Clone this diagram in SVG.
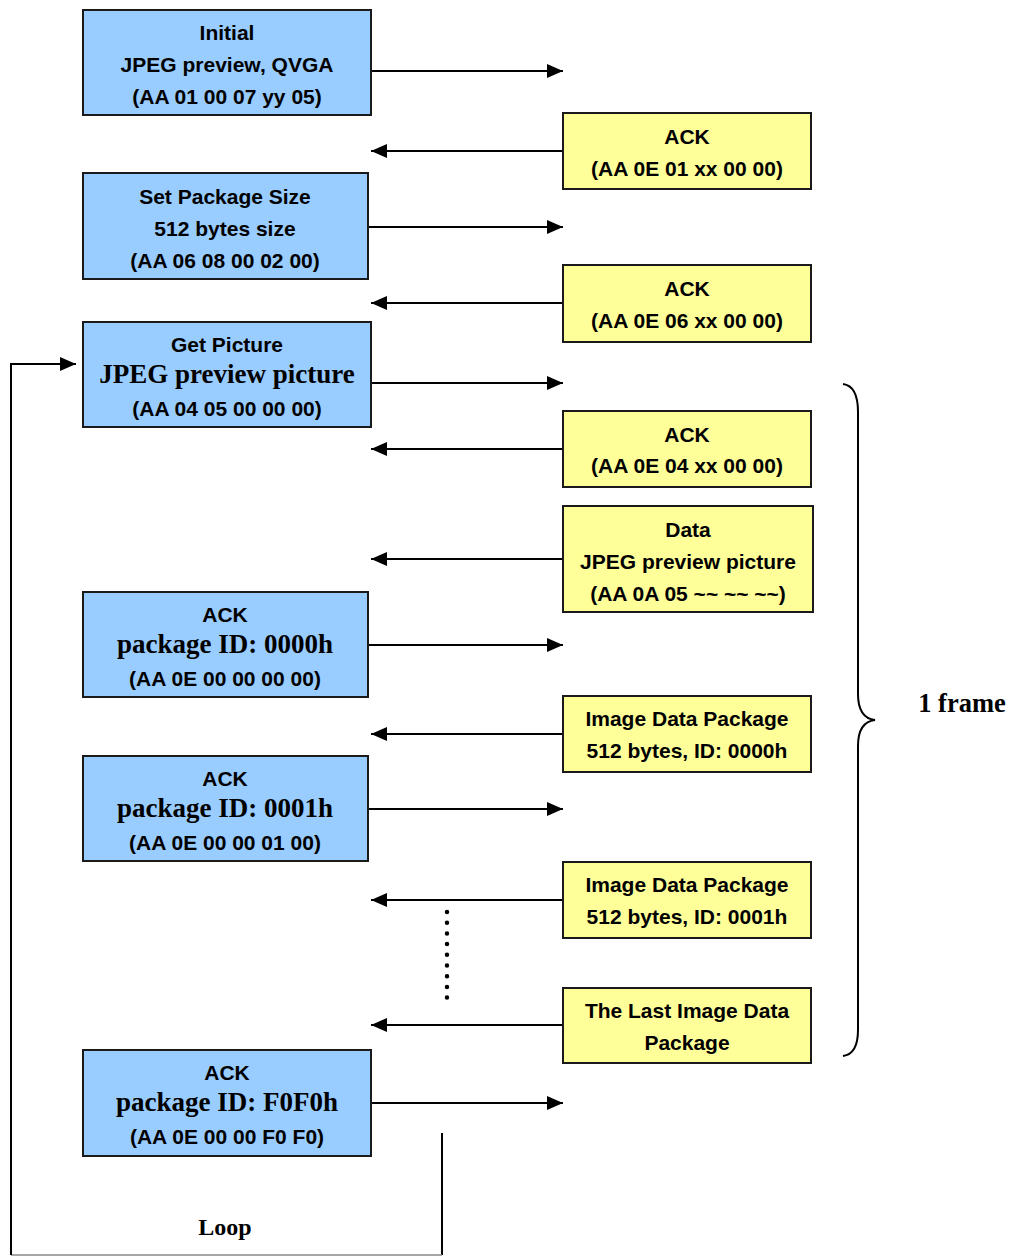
<svg xmlns="http://www.w3.org/2000/svg" width="1013" height="1257" viewBox="0 0 1013 1257">
<style>
.b{fill:#99CCFF;stroke:#1a1a1a;stroke-width:2}
.y{fill:#FFFF99;stroke:#1a1a1a;stroke-width:2}
.t{font-family:"Liberation Sans",Arial,sans-serif;font-weight:bold;font-size:21px;text-anchor:middle;fill:#000}
.s{font-family:"Liberation Serif","Times New Roman",serif;font-weight:bold;font-size:27px;text-anchor:middle;fill:#000}
.c{stroke:#000;stroke-width:2;fill:none}
</style>
<defs>
<marker id="ah" viewBox="0 0 16 14" refX="16" refY="7" markerWidth="16" markerHeight="14" markerUnits="userSpaceOnUse" orient="auto">
<path d="M0,0 L16,7 L0,14 Z" fill="#000"/>
</marker>
</defs>
<g id="connectors">
<line class="c" x1="371" y1="71" x2="563" y2="71" marker-end="url(#ah)"/>
<line class="c" x1="563" y1="151" x2="371" y2="151" marker-end="url(#ah)"/>
<line class="c" x1="368" y1="227" x2="563" y2="227" marker-end="url(#ah)"/>
<line class="c" x1="563" y1="303" x2="371" y2="303" marker-end="url(#ah)"/>
<line class="c" x1="371" y1="383" x2="563" y2="383" marker-end="url(#ah)"/>
<line class="c" x1="563" y1="449" x2="371" y2="449" marker-end="url(#ah)"/>
<line class="c" x1="563" y1="559" x2="371" y2="559" marker-end="url(#ah)"/>
<line class="c" x1="368" y1="645" x2="563" y2="645" marker-end="url(#ah)"/>
<line class="c" x1="563" y1="734" x2="371" y2="734" marker-end="url(#ah)"/>
<line class="c" x1="368" y1="809" x2="563" y2="809" marker-end="url(#ah)"/>
<line class="c" x1="563" y1="900" x2="371" y2="900" marker-end="url(#ah)"/>
<line class="c" x1="563" y1="1025" x2="371" y2="1025" marker-end="url(#ah)"/>
<line class="c" x1="371" y1="1103" x2="563" y2="1103" marker-end="url(#ah)"/>
<line x1="447" y1="912" x2="447" y2="998" stroke="#000" stroke-width="4.5" stroke-linecap="round" stroke-dasharray="0 10.7"/>
<path class="c" d="M442,1133 L442,1255"/>
<line x1="442" y1="1255" x2="11" y2="1255" stroke="#888" stroke-width="1.5"/>
<path class="c" d="M11,1255 L11,364 L76,364" marker-end="url(#ah)"/>
<path d="M843,384 Q858,386 858,412 L858,694 Q858,718 875,720 Q858,722 858,746 L858,1030 Q858,1054 843,1056" fill="none" stroke="#000" stroke-width="2"/>
</g>
<g id="n1"><rect class="b" x="83" y="10" width="288" height="105"/>
<text class="t" x="227" y="40">Initial</text><text class="t" x="227" y="72">JPEG preview, QVGA</text><text class="t" x="227" y="104">(AA 01 00 07 yy 05)</text></g>
<g id="n2"><rect class="y" x="563" y="113" width="248" height="76"/>
<text class="t" x="687" y="144">ACK</text><text class="t" x="687" y="176">(AA 0E 01 xx 00 00)</text></g>
<g id="n3"><rect class="b" x="83" y="173" width="285" height="106"/>
<text class="t" x="225" y="204">Set Package Size</text><text class="t" x="225" y="236">512 bytes size</text><text class="t" x="225" y="268">(AA 06 08 00 02 00)</text></g>
<g id="n4"><rect class="y" x="563" y="265" width="248" height="77"/>
<text class="t" x="687" y="296">ACK</text><text class="t" x="687" y="328">(AA 0E 06 xx 00 00)</text></g>
<g id="n5"><rect class="b" x="83" y="322" width="288" height="105"/>
<text class="t" x="227" y="352">Get Picture</text><text class="s" x="227" y="383">JPEG preview picture</text><text class="t" x="227" y="416">(AA 04 05 00 00 00)</text></g>
<g id="n6"><rect class="y" x="563" y="411" width="248" height="76"/>
<text class="t" x="687" y="442">ACK</text><text class="t" x="687" y="473">(AA 0E 04 xx 00 00)</text></g>
<g id="n7"><rect class="y" x="563" y="506" width="250" height="106"/>
<text class="t" x="688" y="537">Data</text><text class="t" x="688" y="569">JPEG preview picture</text><text class="t" x="688" y="601">(AA 0A 05 ~~ ~~ ~~)</text></g>
<g id="n8"><rect class="b" x="83" y="592" width="285" height="105"/>
<text class="t" x="225" y="622">ACK</text><text class="s" x="225" y="653">package ID: 0000h</text><text class="t" x="225" y="686">(AA 0E 00 00 00 00)</text></g>
<g id="n9"><rect class="y" x="563" y="696" width="248" height="76"/>
<text class="t" x="687" y="726">Image Data Package</text><text class="t" x="687" y="758">512 bytes, ID: 0000h</text></g>
<g id="n10"><rect class="b" x="83" y="756" width="285" height="105"/>
<text class="t" x="225" y="786">ACK</text><text class="s" x="225" y="817">package ID: 0001h</text><text class="t" x="225" y="850">(AA 0E 00 00 01 00)</text></g>
<g id="n11"><rect class="y" x="563" y="862" width="248" height="76"/>
<text class="t" x="687" y="892">Image Data Package</text><text class="t" x="687" y="924">512 bytes, ID: 0001h</text></g>
<g id="n12"><rect class="y" x="563" y="988" width="248" height="75"/>
<text class="t" x="687" y="1018">The Last Image Data</text><text class="t" x="687" y="1050">Package</text></g>
<g id="n13"><rect class="b" x="83" y="1050" width="288" height="106"/>
<text class="t" x="227" y="1080">ACK</text><text class="s" x="227" y="1111">package ID: F0F0h</text><text class="t" x="227" y="1144">(AA 0E 00 00 F0 F0)</text></g>
<g id="labels">
<text class="s" x="962" y="712" style="font-size:26.5px">1 frame</text>
<text class="s" x="225" y="1235" style="font-size:24px">Loop</text>
</g>
</svg>
